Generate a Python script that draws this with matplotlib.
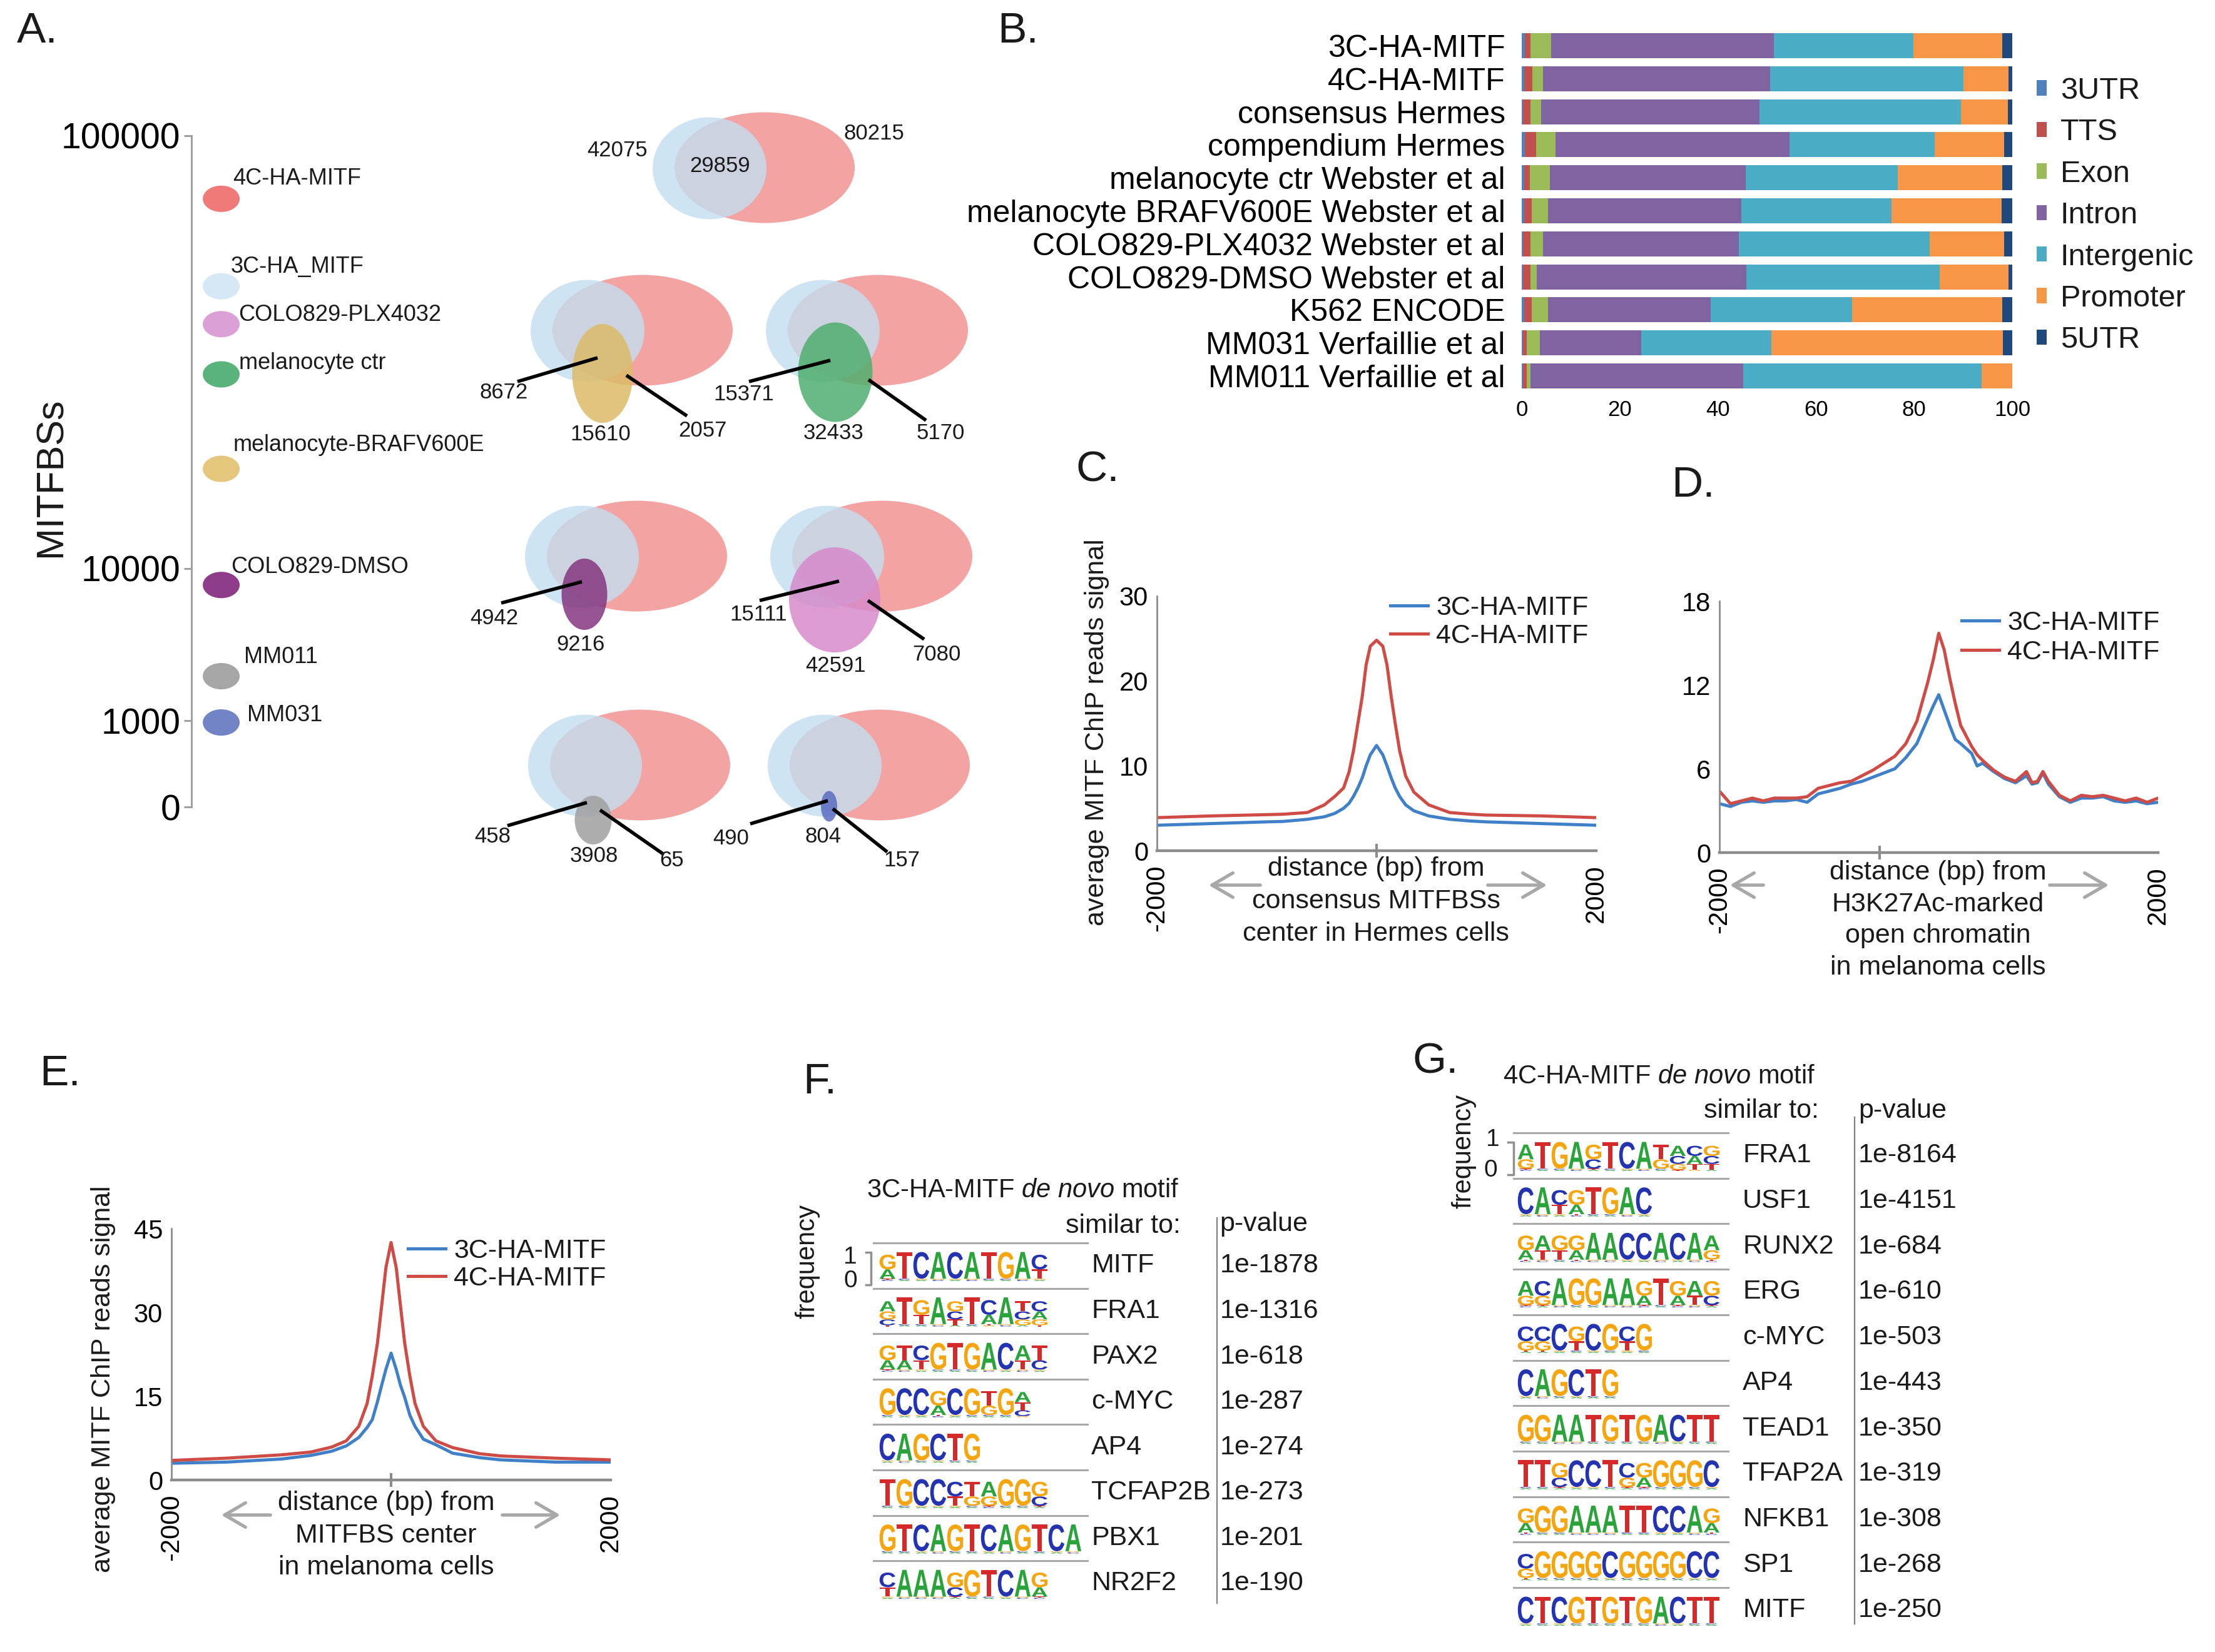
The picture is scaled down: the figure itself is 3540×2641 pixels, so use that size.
import numpy as np
import matplotlib
matplotlib.use("Agg")
import matplotlib.pyplot as plt
import matplotlib.transforms as mtransforms
from matplotlib.patches import Ellipse, Patch, PathPatch, FancyArrowPatch
from matplotlib.path import Path
from matplotlib.textpath import TextPath
from matplotlib.font_manager import FontProperties
from matplotlib.ticker import NullLocator

plt.rcParams["font.family"] = ["Liberation Sans", "DejaVu Sans"]
plt.rcParams["mathtext.fontset"] = "custom"
plt.rcParams["mathtext.rm"] = "Liberation Sans"
plt.rcParams["mathtext.it"] = "Liberation Sans:italic"
plt.rcParams["text.color"] = "#1a1a1a"

# ---------------- data ----------------
# A: MITF binding sites per data set
a_names = ["4C-HA-MITF", "3C-HA_MITF", "COLO829-PLX4032", "melanocyte ctr",
           "melanocyte-BRAFV600E", "COLO829-DMSO", "MM011", "MM031"]
a_counts = [71500, 44900, 36700, 28100, 17000, 7800, 1960, 860]
a_colors = ["#f07a7a", "#d6e8f6", "#dba0d5", "#5bb37c", "#e4c67c", "#8e3b8a", "#a6a6a6", "#7283c6"]
a_ticks = [1, 1000, 10000, 100000]
a_ticklabels = ["0", "1000", "10000", "100000"]

# A: overlaps with 3C-HA-MITF / 4C-HA-MITF
venn_top = [42075, 29859, 80215]
venn_left = [8672, 15371, 4942, 15111, 458, 490]
venn_third = [15610, 32433, 9216, 42591, 3908, 804]
venn_right = [2057, 5170, None, 7080, 65, 157]
venn_colors = ["#dcbb68", "#4fae6e", "#84367f", "#d68bcb", "#a0a0a0", "#5a6cc0"]

# B: genomic annotation (%)
b_samples = ["3C-HA-MITF", "4C-HA-MITF", "consensus Hermes", "compendium Hermes",
             "melanocyte ctr Webster et al", "melanocyte BRAFV600E Webster et al",
             "COLO829-PLX4032 Webster et al", "COLO829-DMSO Webster et al",
             "K562 ENCODE", "MM031 Verfaillie et al", "MM011 Verfaillie et al"]
b_parts = ["3UTR", "TTS", "Exon", "Intron", "Intergenic", "Promoter", "5UTR"]
b_utr3 = [0.6, 0.5, 0.3, 0.7, 0.5, 0.5, 0.3, 0.3, 0.5, 0.3, 0.3]
b_tts = [1.2, 1.7, 1.5, 2.2, 1.2, 1.5, 1.5, 1.5, 1.5, 0.7, 0.7]
b_exon = [4.2, 2.2, 2.2, 4.0, 4.0, 3.3, 2.5, 1.3, 3.3, 2.7, 0.8]
b_intron = [45.4, 46.2, 44.5, 47.7, 40.0, 39.5, 40.0, 42.7, 33.2, 20.6, 43.4]
b_intergenic = [28.4, 39.5, 41.0, 29.6, 30.9, 30.6, 38.9, 39.4, 28.9, 26.6, 48.5]
b_promoter = [18.1, 9.1, 9.6, 14.1, 21.3, 22.4, 15.1, 14.0, 30.6, 47.2, 6.3]
b_utr5 = [2.1, 0.8, 0.9, 1.8, 2.2, 2.2, 1.7, 0.8, 2.0, 2.0, 0.0]
b_colors = ["#4f81bd", "#c0504d", "#9bbb59", "#8064a2", "#4bacc6", "#f79646", "#1f497d"]

# C: profile around consensus MITFBSs in Hermes cells
c_x = [-2000, -1500, -1000, -850, -630, -475, -380, -300, -250, -210, -170, -130, -95,
       -57, 0, 57, 95, 133, 170, 210, 265, 340, 475, 665, 855, 1000, 1500, 2000]
c_3c = [3.0, 3.2, 3.4, 3.45, 3.7, 4.0, 4.4, 5.0, 5.6, 6.4, 7.4, 8.6, 10.0,
        11.3, 12.4, 11.3, 10.0, 8.6, 7.4, 6.4, 5.4, 4.7, 4.1, 3.7, 3.5, 3.4, 3.2, 3.0]
c_4c = [3.9, 4.1, 4.25, 4.3, 4.5, 5.4, 6.4, 7.4, 9.3, 11.8, 15.0, 18.2, 21.9,
        24.1, 24.8, 24.1, 21.9, 18.2, 15.0, 11.8, 8.8, 6.9, 5.4, 4.5, 4.3, 4.2, 4.1, 3.9]

# D: profile around H3K27Ac-marked open chromatin
d_x = [-2000, -1900, -1800, -1700, -1600, -1500, -1400, -1300, -1200, -1100, -1000,
       -900, -800, -700, -600, -500, -400, -300, -200, -100, -50, 0, 50, 100, 150,
       200, 300, 350, 400, 500, 600, 700, 800, 850, 900, 950, 1000, 1100, 1200,
       1300, 1400, 1500, 1600, 1700, 1800, 1900, 2000]
d_3c = [3.5, 3.3, 3.6, 3.7, 3.6, 3.7, 3.7, 3.8, 3.6, 4.2, 4.4, 4.6, 4.9, 5.1, 5.4,
        5.7, 6.0, 6.8, 7.8, 9.6, 10.5, 11.3, 10.2, 9.1, 8.1, 7.8, 7.1, 6.2, 6.4,
        5.8, 5.3, 5.0, 5.5, 4.9, 5.0, 5.7, 4.9, 4.0, 3.6, 3.9, 3.9, 4.0, 3.7, 3.6,
        3.7, 3.5, 3.6]
d_4c = [4.4, 3.5, 3.7, 3.9, 3.7, 3.9, 3.9, 3.9, 4.0, 4.6, 4.8, 5.0, 5.1, 5.5, 5.9,
        6.4, 6.9, 7.8, 9.4, 12.2, 13.8, 15.7, 14.5, 12.5, 10.7, 9.1, 7.6, 7.0, 6.6,
        5.9, 5.4, 5.1, 5.8, 5.0, 5.1, 5.8, 5.1, 4.1, 3.7, 4.1, 4.0, 4.1, 3.9, 3.7,
        3.9, 3.6, 3.9]

# E: profile around MITFBS center in melanoma cells
e_x = [-2000, -1500, -1000, -730, -540, -408, -294, -218, -171, -124, -85, -47, 0,
       47, 85, 124, 171, 218, 294, 408, 560, 807, 1000, 1500, 2000]
e_3c = [3.0, 3.2, 3.75, 4.4, 5.15, 6.1, 7.6, 9.4, 10.8, 14.0, 17.0, 19.8, 22.7,
        19.8, 17.0, 14.8, 11.6, 9.6, 7.3, 6.3, 4.8, 4.0, 3.6, 3.2, 3.2]
e_4c = [3.5, 3.9, 4.5, 5.0, 5.9, 7.0, 9.6, 13.7, 18.6, 24.5, 31.3, 38.0, 42.5,
        38.0, 31.3, 24.5, 18.6, 13.7, 9.6, 7.0, 5.8, 4.7, 4.3, 3.9, 3.6]

# F / G: de novo motifs (each position: letters top to bottom)
f_motifs = ["GA T C A C A T G A CT", "AGC T GT A GCT T CA A TCG CAG",
            "GA TA CT G T G A C AT TC", "G C C GA C G TG G ATC", "C A G C T G",
            "T G C C CT TG AG G G GC", "G T C A G T C A G T C A",
            "CT A A A GC G T C A GA"]
f_names = ["MITF", "FRA1", "PAX2", "c-MYC", "AP4", "TCFAP2B", "PBX1", "NR2F2"]
f_pvals = ["1e-1878", "1e-1316", "1e-618", "1e-287", "1e-274", "1e-273", "1e-201", "1e-190"]

g_motifs = ["AG T G A GC T C A TG ACG CAT GCT", "C A CT GA T G A C",
            "GA AT GT GA A A C C A C A AG", "AG CG A G G A A GA T GA AT GC",
            "CG CG C GT C G CT G", "C A G C T G", "G G A A T G T G A C T T",
            "T T GC C C T CG GA G G G C", "GA G G A A A T T C C A GA",
            "CG G G G G C G G G G C C", "C T C G T G T G A C T T"]
g_names = ["FRA1", "USF1", "RUNX2", "ERG", "c-MYC", "AP4", "TEAD1", "TFAP2A",
           "NFKB1", "SP1", "MITF"]
g_pvals = ["1e-8164", "1e-4151", "1e-684", "1e-610", "1e-503", "1e-443", "1e-350",
           "1e-319", "1e-308", "1e-268", "1e-250"]

# ---------------- figure ----------------
W, H = 3541, 2641
fig = plt.figure(figsize=(W / 100, H / 100), dpi=100)
C3, C4, AXC = "#3f80c9", "#cf4b45", "#8c8c8c"


def px_axes(x0, y0, x1, y1):
    return fig.add_axes([x0 / W, 1 - y1 / H, (x1 - x0) / W, (y1 - y0) / H])


def ftext(x, y, s, **kw):
    return fig.text(x / W, 1 - y / H, s, **kw)


def farrow(x0, x1, y):
    fig.add_artist(FancyArrowPatch((x0 / W, 1 - y / H), (x1 / W, 1 - y / H),
                                   transform=fig.transFigure,
                                   arrowstyle="->,head_length=0.6,head_width=0.35",
                                   mutation_scale=40, color="#a8a8a8", lw=3.8))


# panel letters
for lab, x, y in [("A.", 27, 50), ("B.", 1594, 50), ("C.", 1720, 752), ("D.", 2671, 776),
                  ("E.", 63, 1717), ("F.", 1283, 1730), ("G.", 2258, 1698)]:
    ftext(x, y, lab, fontsize=50, ha="left", va="center")

# ---- A: dot axis ----
A_LOG = [0, 3, 4, 5]
A_POS = [0, 0.1286, 0.3551, 1.0]


def a_fwd(v):
    return np.interp(np.log10(np.maximum(v, 1)), A_LOG, A_POS)


def a_inv(p):
    return 10 ** np.interp(p, A_POS, A_LOG)


ax_a = px_axes(306, 217, 470, 1290)
ax_a.set_yscale("function", functions=(a_fwd, a_inv))
ax_a.set_ylim(1, 100000)
ax_a.set_xlim(0, 1)
t = np.linspace(0, 2 * np.pi, 60)
ell_marker = Path(np.c_[1.4 * np.cos(t), np.sin(t)])
ax_a.scatter([0.29] * len(a_counts), a_counts, marker=ell_marker, s=1800,
             c=a_colors, linewidths=0, clip_on=False, zorder=3)
a_offsets = [(19, 32), (15, 31), (28, 15), (28, 18), (19, 38), (16, 29), (36, 30), (41, 12)]
for name, cnt, off in zip(a_names, a_counts, a_offsets):
    ax_a.annotate(name, (0.29, cnt), xytext=off, textcoords="offset pixels",
                  fontsize=26, ha="left", va="center")
ax_a.set_yticks(a_ticks)
ax_a.set_yticklabels(a_ticklabels)
ax_a.yaxis.set_minor_locator(NullLocator())
ax_a.set_xticks([])
ax_a.tick_params(axis="y", length=8.6, width=2.2, color="#a0a0a0", labelsize=41, pad=4)
for s in ("top", "right", "bottom"):
    ax_a.spines[s].set_visible(False)
ax_a.spines["left"].set(color="#a0a0a0", lw=2.2)
ax_a.patch.set_alpha(0)
ftext(82, 763, "MITFBSs", fontsize=44, rotation=90, ha="center", va="center")

# ---- A: Venn diagrams ----
ax_v = px_axes(650, 130, 1650, 1450)
ax_v.set_xlim(650, 1650)
ax_v.set_ylim(1450, 130)
ax_v.set_axis_off()
PINK, BLUE = "#f4a3a3", (196 / 255, 222 / 255, 241 / 255)


def venn_pair(cx, cy):
    ax_v.add_patch(Ellipse((cx, cy), 288, 177, color=PINK, lw=0))
    ax_v.add_patch(Ellipse((cx - 88, cy + 1), 182, 163, color=BLUE, alpha=0.8, lw=0))


venn_pair(1222, 268)
for num, (dx, dy) in zip(venn_top, [(-235, -27), (-71, -2), (175, -54)]):
    ax_v.text(1222 + dx, 268 + dy, str(num), fontsize=25, ha="center", va="center")

venn_centers = [(1027, 528), (1403, 528), (1018, 889), (1410, 889), (1023, 1223), (1406, 1223)]
venn_geom = [
    dict(e=(-64, 69, 97, 158), l1=((-72, 44), (-200, 82)), t1=(-222, 100),
         l2=((-26, 72), (71, 137)), t2=(96, 161), t3=(-67, 166)),
    dict(e=(-68, 67, 119, 159), l1=((-76, 48), (-206, 82)), t1=(-214, 103),
         l2=((-15, 79), (77, 144)), t2=(100, 164), t3=(-71, 164)),
    dict(e=(-84, 61, 73, 114), l1=((-88, 41), (-217, 75)), t1=(-228, 100),
         l2=None, t2=None, t3=(-90, 142)),
    dict(e=(-76, 70, 146, 168), l1=((-69, 40), (-196, 71)), t1=(-198, 93),
         l2=((-23, 71), (67, 133)), t2=(87, 158), t3=(-74, 175)),
    dict(e=(-75, 88, 59, 78), l1=((-85, 60), (-212, 97)), t1=(-236, 114),
         l2=((-64, 72), (38, 143)), t2=(51, 152), t3=(-74, 145)),
    dict(e=(-81, 66, 26, 49), l1=((-83, 57), (-207, 94)), t1=(-238, 117),
         l2=((-75, 70), (12, 139)), t2=(35, 152), t3=(-90, 114)),
]
for (cx, cy), g, nl, nt, nr, col in zip(venn_centers, venn_geom, venn_left,
                                        venn_third, venn_right, venn_colors):
    venn_pair(cx, cy)
    ex, ey, ew, eh = g["e"]
    ax_v.add_patch(Ellipse((cx + ex, cy + ey), ew, eh, color=col, alpha=0.85, lw=0))
    (a0, a1) = g["l1"]
    ax_v.plot([cx + a0[0], cx + a1[0]], [cy + a0[1], cy + a1[1]], color="black", lw=4,
              solid_capstyle="butt")
    ax_v.text(cx + g["t1"][0], cy + g["t1"][1], str(nl), fontsize=25, ha="center", va="center")
    if g["l2"] is not None:
        (b0, b1) = g["l2"]
        ax_v.plot([cx + b0[0], cx + b1[0]], [cy + b0[1], cy + b1[1]], color="black", lw=4,
                  solid_capstyle="butt")
        ax_v.text(cx + g["t2"][0], cy + g["t2"][1], str(nr), fontsize=25, ha="center", va="center")
    ax_v.text(cx + g["t3"][0], cy + g["t3"][1], str(nt), fontsize=25, ha="center", va="center")

# ---- B: stacked bars ----
ax_b = px_axes(2432, 46.6, 3216, 627.4)
ypos = np.arange(len(b_samples))
left = np.zeros(len(b_samples))
for part, vals, col in zip(b_parts, [b_utr3, b_tts, b_exon, b_intron, b_intergenic,
                                     b_promoter, b_utr5], b_colors):
    ax_b.barh(ypos, vals, left=left, height=0.76, color=col, lw=0, label=part)
    left += np.array(vals)
ax_b.set_ylim(len(b_samples) - 0.5, -0.5)
ax_b.set_xlim(0, 100)
ax_b.set_yticks(ypos)
ax_b.set_yticklabels(b_samples)
ax_b.set_xticks(np.arange(0, 101, 20))
ax_b.tick_params(axis="y", length=0, labelsize=36, pad=19)
ax_b.tick_params(axis="x", length=0, labelsize=25, pad=8)
for s in ax_b.spines.values():
    s.set_visible(False)
handles = [Patch(facecolor=c, edgecolor="none", label=p) for p, c in zip(b_parts, b_colors)]
ax_b.legend(handles=handles, loc="upper left", bbox_to_anchor=(3255 / W, 1 - 123 / H),
            bbox_transform=fig.transFigure, frameon=False, fontsize=35,
            handlelength=0.33, handleheight=0.4, handletextpad=0.45,
            labelspacing=0.44, borderpad=0, borderaxespad=0)


# ---- C, D, E: profiles ----
def profile(box, xs, s3, s4, ymax, yticks, mid, leg_x, leg_y, leg_gap):
    ax = px_axes(*box)
    ax.plot(xs, s3, color=C3, lw=3.6, label="3C-HA-MITF")
    ax.plot(xs, s4, color=C4, lw=3.6, label="4C-HA-MITF")
    ax.set_xlim(-2000, 2000)
    ax.set_ylim(0, ymax)
    ax.set_yticks(yticks)
    ax.set_xticks([-2000, 2000])
    ax.set_xticklabels(["-2000", "2000"], rotation=90, va="top")
    ax.set_xticks([mid], minor=True)
    ax.tick_params(axis="x", which="minor", length=16, width=3, direction="inout", color=AXC)
    ax.tick_params(which="major", length=0, labelsize=30)
    ax.tick_params(axis="y", pad=10)
    ax.tick_params(axis="x", which="major", pad=16)
    for s in ("top", "right"):
        ax.spines[s].set_visible(False)
    ax.spines["bottom"].set(color=AXC, lw=3.2)
    ax.spines["left"].set(color=AXC, lw=2)
    ax.legend(loc="upper left", bbox_to_anchor=(leg_x / W, 1 - leg_y / H),
              bbox_transform=fig.transFigure, frameon=False, fontsize=31,
              handlelength=1.4, handletextpad=0.3, labelspacing=leg_gap,
              borderpad=0, borderaxespad=0)
    return ax


profile((1849, 953, 2551, 1360), c_x, c_3c, c_4c, 30, [0, 10, 20, 30], 0, 2222, 952, 0.12)
profile((2748, 961, 3449, 1363), d_x, d_3c, d_4c, 18, [0, 6, 12, 18], -540, 3135, 976, 0.16)
profile((274, 1964, 976, 2366), e_x, e_3c, e_4c, 45, [0, 15, 30, 45], 0, 652, 1980, 0.09)

ftext(1753, 1171, "average MITF ChIP reads signal", fontsize=31, rotation=90,
      ha="center", va="center")
ftext(165, 2205, "average MITF ChIP reads signal", fontsize=31, rotation=90,
      ha="center", va="center")

for lines, xc, y0, dy in [
        (["distance (bp) from", "consensus MITFBSs", "center in Hermes cells"], 2199, 1389, 52),
        (["distance (bp) from", "H3K27Ac-marked", "open chromatin", "in melanoma cells"], 3097, 1395, 50.7),
        (["distance (bp) from", "MITFBS center", "in melanoma cells"], 617, 2403, 51.5)]:
    for k, s in enumerate(lines):
        ftext(xc, y0 + k * dy, s, fontsize=31, ha="center", va="center")

farrow(2017, 1929, 1415)
farrow(2375, 2475, 1415)
farrow(2821, 2762, 1415)
farrow(3273, 3373, 1415)
farrow(435, 351, 2422)
farrow(800, 898, 2422)

# ---- F, G: motif tables ----
LOGO_FP = FontProperties(family="Liberation Sans", weight="bold")
LOGO_COL = {"A": "#2aa33a", "C": "#2433b0", "G": "#f5a50f", "T": "#d62a2a"}
STACK = {1: [1.0], 2: [0.55, 0.35], 3: [0.38, 0.3, 0.22]}
_glyphs = {}


def put_letter(ax, ch, x, ybot, w, h):
    if ch not in _glyphs:
        _glyphs[ch] = TextPath((0, 0), ch, size=1, prop=LOGO_FP)
    tp = _glyphs[ch]
    bb = tp.get_extents()
    tr = (mtransforms.Affine2D().translate(-bb.x0, -bb.y0)
          .scale(w / bb.width, -h / bb.height).translate(x, ybot))
    ax.add_patch(PathPatch(tr.transform_path(tp), fc=LOGO_COL[ch], ec="none", lw=0))


def draw_motif(ax, motif, x0, row):
    top, bot = row + 0.2, row + 0.84
    full = bot - top
    band = 0.08 * full
    for j, pos in enumerate(motif.split()):
        x = x0 + j + 0.03
        y = bot
        for c in [c for c in "ACGT" if c not in pos][:2]:
            put_letter(ax, c, x + 0.12, y, 0.7, band / 2)
            y -= band / 2
        for c, wt in zip(pos[::-1], STACK[len(pos)][::-1]):
            hh = wt * (full - band)
            put_letter(ax, c, x, y, 0.94, hh)
            y -= hh


def motif_table(box, xlim, ylim, motifs, names, pvals, x0, sep_end, name_x, p_x, vline,
                title_xy, sim_xy, pv_xy, one_xy, zero_xy, br_x, freq_xy, title):
    ax = px_axes(*box)
    ax.set_xlim(*xlim)
    ax.set_ylim(*ylim)
    ax.set_axis_off()
    for i, (m, n, p) in enumerate(zip(motifs, names, pvals)):
        ax.plot([0, sep_end], [i, i], color="#a8a8a8", lw=2.2)
        draw_motif(ax, m, x0, i)
        ax.text(name_x, i + 0.5, n, fontsize=31, ha="left", va="center")
        ax.text(p_x, i + 0.5, p, fontsize=31, ha="left", va="center")
    ax.plot([vline[0]] * 2, vline[1:], color="#808080", lw=1.6)
    ax.text(*title_xy, title, fontsize=30, ha="left", va="center")
    ax.text(*sim_xy, "similar to:", fontsize=31, ha="left", va="center")
    ax.text(*pv_xy, "p-value", fontsize=31, ha="left", va="center")
    ax.text(*one_xy, "1", fontsize=28, ha="center", va="center")
    ax.text(*zero_xy, "0", fontsize=28, ha="center", va="center")
    ax.plot([br_x[0], br_x[1], br_x[1], br_x[0]], [0.2, 0.2, 0.92, 0.92],
            color="#909090", lw=2.5)
    ax.text(*freq_xy, "frequency", fontsize=30, rotation=90, ha="center", va="center")
    return ax


motif_table((1250, 1800, 2200, 2620), ((1250 - 1396) / 27, (2200 - 1396) / 27),
            ((2620 - 1987) / 72.6, (1800 - 1987) / 72.6), f_motifs, f_names, f_pvals,
            0.33, 12.67, 12.9, 20.5, (20.35, -0.55, 7.93), (-0.41, -1.16), (11.37, -0.37),
            (20.5, -0.41), (-1.37, 0.32), (-1.37, 0.84), (-0.45, -0.15), (-3.93, 0.41),
            r"3C-HA-MITF $\mathit{de\ novo}$ motif")
motif_table((2250, 1650, 3541, 2641), ((2250 - 2419) / 27, (3541 - 2419) / 27),
            ((2641 - 1811) / 72.7, (1650 - 1811) / 72.7), g_motifs, g_names, g_pvals,
            0.22, 12.7, 13.56, 20.4, (20.2, -0.34, 10.8), (-0.63, -1.24), (11.26, -0.48),
            (20.4, -0.48), (-1.22, 0.15), (-1.37, 0.83), (-0.33, 0.0), (-2.96, 0.4),
            r"4C-HA-MITF $\mathit{de\ novo}$ motif")

fig.savefig("out.png", dpi=100, facecolor="white")
